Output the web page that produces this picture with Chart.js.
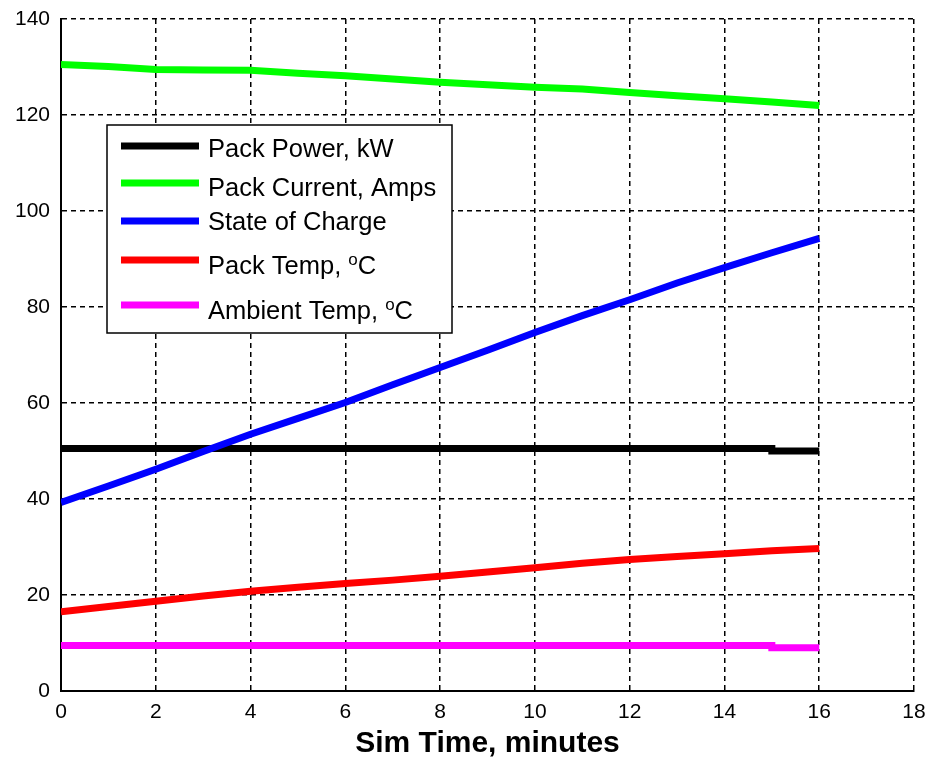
<!DOCTYPE html>
<html>
<head>
<meta charset="utf-8">
<script src="https://cdn.jsdelivr.net/npm/chart.js@4/dist/chart.umd.min.js"></script>
<style>
  html, body { margin: 0; padding: 0; background: #ffffff; }
  #wrap { width: 929px; height: 765px; }
</style>
</head>
<body>
<div id="wrap"><canvas id="c" width="929" height="765"></canvas></div>
<script>
// ---- data ----
const simTime = [0, 1, 2, 3, 4, 5, 6, 7, 8, 9, 10, 11, 12, 13, 14, 15, 16];
const packPower = [50.5, 50.5, 50.5, 50.5, 50.5, 50.5, 50.5, 50.5, 50.5, 50.5, 50.5, 50.5, 50.5, 50.5, 50.5, 50.5, 50.0];
const packCurrent = [130.5, 130.1, 129.5, 129.4, 129.3, 128.7, 128.2, 127.5, 126.8, 126.3, 125.8, 125.4, 124.7, 124.0, 123.4, 122.7, 122.0];
const stateOfCharge = [39.3, 42.7, 46.2, 49.9, 53.5, 56.8, 60.1, 63.8, 67.4, 71.0, 74.7, 78.2, 81.5, 85.0, 88.2, 91.3, 94.3];
const packTemp = [16.5, 17.6, 18.7, 19.8, 20.8, 21.6, 22.4, 23.1, 23.9, 24.8, 25.7, 26.6, 27.4, 28.0, 28.6, 29.2, 29.7];
const ambientTemp = [9.5, 9.5, 9.5, 9.5, 9.5, 9.5, 9.5, 9.5, 9.5, 9.5, 9.5, 9.5, 9.5, 9.5, 9.5, 9.5, 9.0];
const seriesLabels = ['Pack Power, kW', 'Pack Current, Amps', 'State of Charge', 'Pack Temp, °C', 'Ambient Temp, °C'];
const xTickRange = { min: 0, max: 18, step: 2 };
const yTickRange = { min: 0, max: 140, step: 20 };
const xTitle = 'Sim Time, minutes';

const FONT = '"Liberation Sans", Arial, Helvetica, sans-serif';
const colors = ['#000000', '#00ff00', '#0000ff', '#ff0000', '#ff00ff'];
const seriesValues = [packPower, packCurrent, stateOfCharge, packTemp, ambientTemp];
const steppedFlags = ['after', false, false, false, 'after'];

const datasets = seriesValues.map((vals, i) => ({
  label: seriesLabels[i],
  data: vals.map((v, k) => ({ x: simTime[k], y: v })),
  borderColor: colors[i],
  backgroundColor: colors[i],
  borderWidth: 7,
  borderCapStyle: 'butt',
  borderJoinStyle: 'miter',
  pointRadius: 0,
  tension: 0,
  stepped: steppedFlags[i],
  fill: false,
  order: 5 - i
}));

// legend drawn inside the axes, MATLAB style
const boxLegend = {
  id: 'boxLegend',
  afterDatasetsDraw(chart) {
    const ctx = chart.ctx;
    const bx = 107, by = 125, bw = 345, bh = 208;
    const lineY = [146, 183, 221, 260, 305];
    const textMid = [148, 187, 221, 265, 310];
    ctx.save();
    ctx.fillStyle = '#ffffff';
    ctx.fillRect(bx, by, bw, bh);
    ctx.strokeStyle = '#000000';
    ctx.lineWidth = 1.5;
    ctx.strokeRect(bx, by, bw, bh);
    chart.data.datasets.forEach((ds, i) => {
      ctx.beginPath();
      ctx.strokeStyle = ds.borderColor;
      ctx.lineWidth = 7;
      ctx.lineCap = 'butt';
      ctx.moveTo(121, lineY[i]);
      ctx.lineTo(199, lineY[i]);
      ctx.stroke();
      const base = textMid[i] + 9;
      ctx.fillStyle = '#000000';
      ctx.textBaseline = 'alphabetic';
      ctx.textAlign = 'left';
      ctx.font = '25.5px ' + FONT;
      const parts = ds.label.split('°');
      let x = 208;
      ctx.fillText(parts[0], x, base);
      if (parts.length > 1) {
        x += ctx.measureText(parts[0]).width;
        ctx.font = '17px ' + FONT;
        ctx.fillText('o', x, base - 9);
        x += ctx.measureText('o').width;
        ctx.font = '25.5px ' + FONT;
        ctx.fillText(parts[1], x, base);
      }
    });
    ctx.restore();
  }
};

const gridCommon = {
  color: '#000000',
  lineWidth: 1.5,
  drawTicks: false,
  tickLength: 0
};

new Chart(document.getElementById('c'), {
  type: 'line',
  data: { datasets },
  plugins: [boxLegend],
  options: {
    responsive: false,
    animation: false,
    devicePixelRatio: 1,
    layout: { padding: { top: 19, right: 15, bottom: 0, left: 0 } },
    plugins: { legend: { display: false }, tooltip: { enabled: false } },
    scales: {
      x: {
        type: 'linear',
        min: xTickRange.min,
        max: xTickRange.max,
        ticks: {
          stepSize: xTickRange.step,
          color: '#000000',
          font: { family: FONT, size: 21 },
          padding: 9,
          maxRotation: 0
        },
        grid: gridCommon,
        border: { display: true, color: '#000000', width: 2, dash: [5, 4] },
        title: {
          display: true,
          text: xTitle,
          color: '#000000',
          font: { family: FONT, size: 30, weight: 'bold' },
          padding: { top: 0, bottom: 3 }
        },
        afterFit(scale) {
          scale.height = 74;
          scale.paddingLeft = 0;
          scale.paddingRight = 0;
        }
      },
      y: {
        type: 'linear',
        min: yTickRange.min,
        max: yTickRange.max,
        ticks: {
          stepSize: yTickRange.step,
          color: '#000000',
          font: { family: FONT, size: 21 },
          padding: 11
        },
        grid: gridCommon,
        border: { display: true, color: '#000000', width: 2, dash: [5, 4] },
        afterFit(scale) {
          scale.width = 61;
          scale.paddingTop = 0;
          scale.paddingBottom = 0;
        }
      }
    }
  }
});
</script>
</body>
</html>
